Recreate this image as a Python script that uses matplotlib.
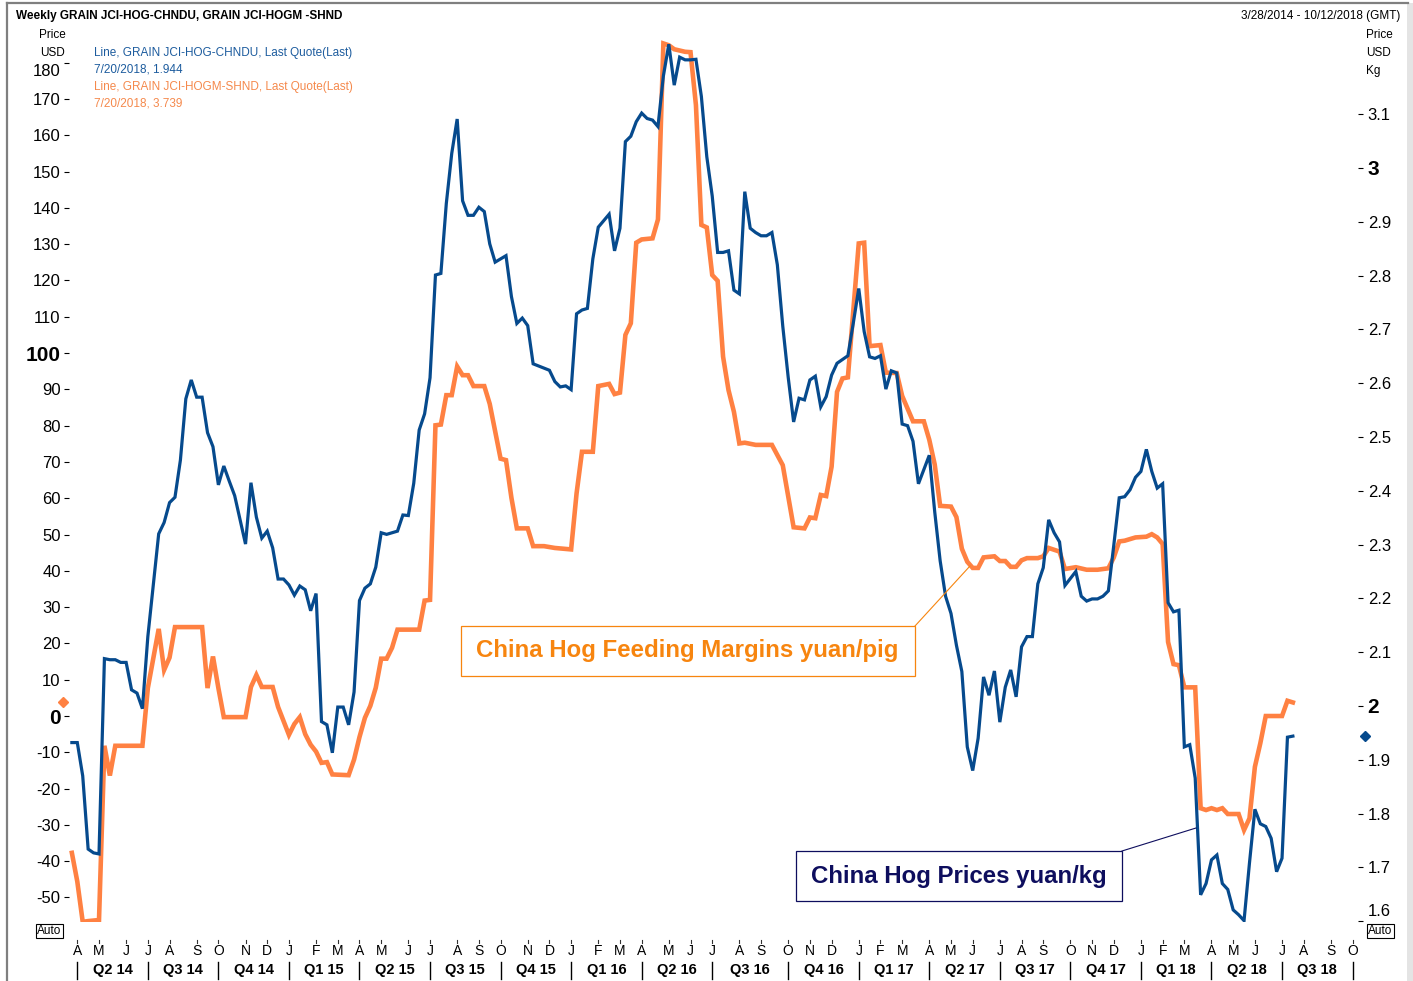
import matplotlib
matplotlib.use('Agg')
import matplotlib.pyplot as plt
import matplotlib.transforms as mtransforms
import matplotlib.dates as mdates
from matplotlib.patches import Rectangle
from matplotlib.lines import Line2D
import pandas as pd

plt.rcParams['font.family'] = ['Liberation Sans', 'DejaVu Sans']

# ---------------- data ----------------
START = pd.Timestamp('2014-03-28')   # first weekly observation (Friday)
END = pd.Timestamp('2018-10-12')

# China hog prices (right axis): week number since START, value
price_weeks = [0, 1, 2, 3, 4, 5, 6, 7, 8, 9, 10, 11, 12, 13, 14, 15, 16, 17, 18, 19,
               20, 21, 22, 23, 24, 25, 26, 27, 28, 29, 30, 32, 33, 34, 35, 36, 37, 38, 39, 40,
               41, 42, 43, 44, 45, 46, 47, 48, 49, 50, 51, 52, 53, 54, 55, 56, 57, 58, 60, 61,
               62, 63, 64, 65, 66, 67, 68, 69, 70, 71, 72, 73, 74, 75, 76, 77, 78, 80, 81, 82,
               83, 84, 85, 88, 89, 90, 91, 92, 93, 94, 95, 96, 97, 99, 100, 101, 102, 103, 104, 105,
               106, 107, 108, 109, 110, 111, 112, 113, 114, 115, 116, 117, 118, 119, 120, 121, 122, 123, 124, 125,
               126, 127, 128, 129, 130, 131, 132, 133, 134, 135, 136, 137, 138, 139, 140, 141, 143, 144, 145, 146,
               147, 148, 149, 150, 151, 152, 153, 154, 155, 156, 158, 159, 160, 161, 162, 163, 164, 165, 166, 167,
               168, 169, 170, 171, 172, 173, 174, 175, 176, 177, 178, 179, 180, 181, 182, 183, 185, 186, 187, 188,
               189, 190, 191, 192, 193, 194, 195, 196, 197, 198, 199, 200, 201, 202, 203, 204, 205, 206, 207, 208,
               209, 210, 211, 212, 213, 214, 215, 216, 217, 218, 219, 220, 221, 222, 223, 224, 225]
price_values = [1.932, 1.932, 1.870, 1.734, 1.727, 1.725, 2.088, 2.086, 2.086, 2.081, 2.081, 2.030, 2.024, 1.995, 2.129, 2.225, 2.320, 2.341, 2.378, 2.388,
                2.457, 2.571, 2.606, 2.574, 2.574, 2.508, 2.482, 2.411, 2.446, 2.418, 2.391, 2.301, 2.415, 2.351, 2.312, 2.325, 2.294, 2.236, 2.236, 2.225,
                2.206, 2.223, 2.216, 2.177, 2.209, 1.971, 1.965, 1.913, 1.998, 1.998, 1.965, 2.026, 2.196, 2.219, 2.227, 2.258, 2.322, 2.319, 2.325, 2.355,
                2.354, 2.414, 2.513, 2.543, 2.610, 2.801, 2.804, 2.934, 3.027, 3.091, 2.939, 2.912, 2.912, 2.927, 2.919, 2.859, 2.825, 2.837, 2.761, 2.711,
                2.721, 2.707, 2.636, 2.624, 2.603, 2.593, 2.595, 2.588, 2.729, 2.736, 2.739, 2.831, 2.890, 2.914, 2.846, 2.888, 3.049, 3.059, 3.086, 3.102,
                3.092, 3.089, 3.077, 3.171, 3.230, 3.154, 3.206, 3.201, 3.201, 3.202, 3.133, 3.021, 2.948, 2.843, 2.843, 2.846, 2.773, 2.766, 2.956, 2.888,
                2.880, 2.874, 2.874, 2.880, 2.820, 2.706, 2.611, 2.528, 2.572, 2.569, 2.606, 2.613, 2.556, 2.575, 2.615, 2.637, 2.651, 2.712, 2.776, 2.696,
                2.649, 2.646, 2.651, 2.589, 2.623, 2.619, 2.524, 2.521, 2.492, 2.413, 2.466, 2.361, 2.270, 2.204, 2.172, 2.113, 2.064, 1.924, 1.880, 1.940,
                2.054, 2.020, 2.065, 1.970, 2.035, 2.067, 2.017, 2.110, 2.129, 2.129, 2.227, 2.257, 2.346, 2.322, 2.305, 2.224, 2.250, 2.204, 2.195, 2.199,
                2.199, 2.204, 2.214, 2.299, 2.387, 2.389, 2.402, 2.425, 2.436, 2.477, 2.436, 2.405, 2.413, 2.192, 2.175, 2.178, 1.924, 1.928, 1.866, 1.649,
                1.670, 1.714, 1.723, 1.670, 1.659, 1.621, 1.612, 1.601, 1.708, 1.808, 1.781, 1.776, 1.754, 1.692, 1.717, 1.942, 1.944]

# China hog feeding margins (left axis): week number since START, value
margin_weeks = [0, 1, 2, 3, 5, 6, 7, 8, 13, 14, 15, 16, 17, 18, 19, 24, 25, 26, 27, 28,
                32, 33, 34, 35, 37, 38, 40, 41, 42, 43, 44, 45, 46, 47, 48, 51, 52, 53, 54, 55,
                56, 57, 58, 59, 60, 64, 65, 66, 67, 68, 69, 70, 71, 72, 73, 74, 76, 77, 79, 80,
                81, 82, 84, 85, 87, 89, 92, 93, 94, 96, 97, 99, 100, 101, 102, 103, 104, 105, 107, 108,
                109, 110, 111, 113, 114, 115, 116, 117, 118, 119, 120, 121, 122, 123, 124, 126, 129, 131, 133, 135,
                136, 137, 138, 139, 140, 141, 142, 143, 145, 146, 147, 149, 150, 152, 153, 155, 157, 158, 159, 160,
                162, 163, 164, 165, 166, 167, 168, 170, 171, 172, 173, 174, 175, 176, 178, 179, 180, 182, 183, 185,
                187, 189, 191, 192, 193, 194, 196, 198, 199, 200, 201, 202, 203, 204, 205, 207, 208, 209, 210, 211,
                212, 213, 215, 216, 217, 218, 219, 220, 223, 224, 225]
margin_values = [-37.7, -45.6, -56.7, -56.5, -56.2, -8.2, -16.4, -8.2, -8.2, 7.7, 15.8, 24.0, 12.7, 16.1, 24.5, 24.5, 7.7, 16.4, 7.7, -0.3,
                 -0.3, 8.0, 11.3, 8.0, 8.0, 2.5, -5.2, -2.2, -0.3, -5.0, -7.9, -9.8, -12.9, -12.7, -16.1, -16.3, -12.0, -5.8, -0.5, 2.8,
                 7.8, 15.8, 15.8, 18.8, 23.8, 23.8, 31.8, 32.0, 80.1, 80.3, 88.4, 88.4, 96.3, 93.9, 93.9, 90.9, 90.9, 86.0, 70.9, 70.5,
                 60.1, 51.7, 51.7, 46.8, 46.8, 46.3, 45.9, 61.3, 72.8, 72.8, 90.9, 91.5, 88.7, 89.1, 105.0, 108.2, 130.4, 131.3, 131.6, 136.8,
                 185.3, 184.8, 183.7, 183.0, 182.9, 168.3, 135.3, 134.6, 121.5, 119.9, 99.0, 89.8, 83.8, 75.1, 75.3, 74.7, 74.7, 69.1, 52.0, 51.7,
                 54.7, 54.5, 60.9, 60.6, 68.7, 89.3, 93.0, 93.3, 130.2, 130.4, 101.9, 102.2, 94.6, 94.5, 88.2, 81.2, 81.2, 76.1, 69.3, 57.9,
                 57.7, 54.8, 46.1, 42.5, 40.8, 40.8, 43.7, 44.0, 42.7, 42.7, 41.1, 41.1, 42.9, 43.5, 43.5, 44.0, 46.3, 45.3, 40.5, 41.0,
                 40.3, 40.3, 40.7, 43.7, 48.1, 48.3, 49.2, 49.4, 50.1, 49.2, 47.4, 20.4, 14.3, 14.0, 7.9, 7.9, -25.4, -25.9, -25.4, -25.9,
                 -25.4, -27.0, -27.0, -31.4, -28.2, -14.0, -7.5, 0.0, 0.0, 4.2, 3.739]

left_ticks = [-50, -40, -30, -20, -10, 0, 10, 20, 30, 40, 50, 60, 70, 80, 90, 100,
              110, 120, 130, 140, 150, 160, 170, 180]
right_ticks = [1.6, 1.7, 1.8, 1.9, 2.0, 2.1, 2.2, 2.3, 2.4, 2.5, 2.6, 2.7, 2.8, 2.9, 3.0, 3.1]

month_labels = ['A', 'M', 'J', 'J', 'A', 'S', 'O', 'N', 'D',
                'J', 'F', 'M', 'A', 'M', 'J', 'J', 'A', 'S', 'O', 'N', 'D',
                'J', 'F', 'M', 'A', 'M', 'J', 'J', 'A', 'S', 'O', 'N', 'D',
                'J', 'F', 'M', 'A', 'M', 'J', 'J', 'A', 'S', 'O', 'N', 'D',
                'J', 'F', 'M', 'A', 'M', 'J', 'J', 'A', 'S', 'O']
quarter_labels = ['Q2 14', 'Q3 14', 'Q4 14', 'Q1 15', 'Q2 15', 'Q3 15', 'Q4 15', 'Q1 16',
                  'Q2 16', 'Q3 16', 'Q4 16', 'Q1 17', 'Q2 17', 'Q3 17', 'Q4 17', 'Q1 18',
                  'Q2 18', 'Q3 18']

BLUE = '#064A8D'
ORANGE = '#FF8142'

# ---------------- figure ----------------
W, H = 1413, 981
fig = plt.figure(figsize=(W / 100, H / 100), dpi=100)


def fx(x):
    return x / W


def fy(y):
    return 1 - y / H


AX_L, AX_R, AX_T, AX_B = 69, 1358, 38, 922
ax = fig.add_axes([fx(AX_L), fy(AX_B), fx(AX_R - AX_L), (AX_B - AX_T) / H])
ax2 = ax.twinx()

margin_dates = START + pd.to_timedelta([w * 7 for w in margin_weeks], unit='D')
price_dates = START + pd.to_timedelta([w * 7 for w in price_weeks], unit='D')

ax.plot(mdates.date2num(margin_dates), margin_values, color=ORANGE, lw=3.3,
        solid_joinstyle='miter', zorder=2)
ax2.plot(mdates.date2num(price_dates), price_values, color=BLUE, lw=2.3,
         solid_joinstyle='miter', zorder=3)

ax.set_xlim(mdates.date2num(START - pd.Timedelta(days=3.7)), mdates.date2num(END))
ax.set_ylim(-56.75, 186.8)
ax2.set_ylim(1.5985, 3.2416)

for a in (ax, ax2):
    for s in a.spines.values():
        s.set_visible(False)
    a.set_xticks([])
ax.patch.set_alpha(0)

# left ticks
ax.set_yticks(left_ticks)
ax.set_yticklabels(['' if t == 180 else f'{t}' for t in left_ticks])
ax.tick_params(axis='y', direction='out', length=3.5, width=0.8, pad=2.5,
               labelsize=12, colors='black')
for lab in ax.get_yticklabels():
    if lab.get_text() in ('100', '0'):
        lab.set_fontweight('bold')
        lab.set_fontsize(15)
fig.text(fx(61), fy(72), '180', ha='right', va='center', fontsize=12)

# right ticks
ax2.set_yticks(right_ticks)
ax2.set_yticklabels(['' if t == 1.6 else f'{t:g}' for t in right_ticks])
ax2.tick_params(axis='y', direction='out', length=3.5, width=0.8, pad=3.5,
                labelsize=12, colors='black')
for lab in ax2.get_yticklabels():
    if lab.get_text() in ('3', '2'):
        lab.set_fontweight('bold')
        lab.set_fontsize(15)
fig.text(fx(1368), fy(911), '1.6', ha='left', va='center', fontsize=12)

# last-value diamonds
bt = mtransforms.blended_transform_factory(ax.transAxes, ax.transData)
ax.plot([-0.0045], [margin_values[-1]], marker='D', ms=5, color=ORANGE,
        transform=bt, clip_on=False, lw=0)
bt2 = mtransforms.blended_transform_factory(ax2.transAxes, ax2.transData)
ax2.plot([1.0055], [price_values[-1]], marker='D', ms=5, color=BLUE,
         transform=bt2, clip_on=False, lw=0)

# ---------------- x axis: months & quarters ----------------
xt = mtransforms.blended_transform_factory(ax.transData, fig.transFigure)


def first_friday(year, month):
    d = pd.Timestamp(year=year, month=month, day=1)
    return d + pd.Timedelta(days=(4 - d.weekday()) % 7)


month_periods = pd.period_range('2014-04', '2018-10', freq='M')
month_pos = [mdates.date2num(first_friday(p.year, p.month)) for p in month_periods]
for d, lab in zip(month_pos, month_labels):
    fig.add_artist(Line2D([d, d], [fy(939.5), fy(943)], transform=xt,
                          color='#333333', lw=0.8))
    fig.text(d, fy(951), lab, transform=xt, fontsize=10, ha='center', va='center')

q_pos = [month_pos[i] for i in range(0, len(month_pos), 3)]
for d in q_pos:
    fig.add_artist(Line2D([d, d], [fy(962), fy(979)], transform=xt,
                          color='black', lw=1.0))
for i, lab in enumerate(quarter_labels):
    mid = (q_pos[i] + q_pos[i + 1]) / 2
    fig.text(mid, fy(970), lab, transform=xt, fontsize=10.5, fontweight='bold',
             ha='center', va='center')

# ---------------- header texts ----------------
fig.text(fx(16), fy(16), 'Weekly GRAIN JCI-HOG-CHNDU, GRAIN JCI-HOGM -SHND',
         fontsize=8.5, fontweight='bold', ha='left', va='center')
fig.text(fx(1400), fy(16), '3/28/2014 - 10/12/2018 (GMT)', fontsize=8.5,
         ha='right', va='center')
fig.text(fx(52), fy(35), 'Price', fontsize=8.5, ha='center', va='center')
fig.text(fx(52), fy(53), 'USD', fontsize=8.5, ha='center', va='center')
fig.text(fx(1366), fy(35), 'Price', fontsize=8.5, ha='left', va='center')
fig.text(fx(1366), fy(53), 'USD', fontsize=8.5, ha='left', va='center')
fig.text(fx(1366), fy(71), 'Kg', fontsize=8.5, ha='left', va='center')

LEG_BLUE = '#1D5C9E'
LEG_ORANGE = '#F5894C'
fig.text(fx(94), fy(53), 'Line, GRAIN JCI-HOG-CHNDU, Last Quote(Last)', fontsize=8.5,
         color=LEG_BLUE, ha='left', va='center')
fig.text(fx(94), fy(70), f'7/20/2018, {price_values[-1]:.3f}', fontsize=8.5,
         color=LEG_BLUE, ha='left', va='center')
fig.text(fx(94), fy(87), 'Line, GRAIN JCI-HOGM-SHND, Last Quote(Last)', fontsize=8.5,
         color=LEG_ORANGE, ha='left', va='center')
fig.text(fx(94), fy(104), f'7/20/2018, {margin_values[-1]:.3f}', fontsize=8.5,
         color=LEG_ORANGE, ha='left', va='center')

# "Auto" boxes
for x0 in (36, 1367):
    fig.text(fx(x0 + 1), fy(931), 'Auto', fontsize=8.5, ha='left', va='center',
             bbox=dict(boxstyle='square,pad=0.1', fc='white', ec='black', lw=0.8))

# ---------------- annotation boxes ----------------
ANN_ORANGE = '#F7850F'
fig.add_artist(Rectangle((fx(461), fy(676)), fx(915 - 461), (676 - 626) / H,
                         transform=fig.transFigure, fill=False, ec=ANN_ORANGE, lw=0.9))
fig.text(fx(687), fy(651), 'China Hog Feeding Margins yuan/pig', fontsize=17.3,
         fontweight='bold', color=ANN_ORANGE, ha='center', va='center')
fig.add_artist(Line2D([fx(915), fx(970)], [fy(626), fy(566)], transform=fig.transFigure,
                      color=ANN_ORANGE, lw=0.8))

NAVY = '#0E0E5E'
fig.add_artist(Rectangle((fx(796), fy(901)), fx(1122 - 796), (901 - 851) / H,
                         transform=fig.transFigure, fill=False, ec=NAVY, lw=0.9))
fig.text(fx(959), fy(877), 'China Hog Prices yuan/kg', fontsize=17.3,
         fontweight='bold', color=NAVY, ha='center', va='center')
fig.add_artist(Line2D([fx(1122), fx(1196)], [fy(851), fy(828)], transform=fig.transFigure,
                      color=NAVY, lw=0.8))

# outer frame
fig.add_artist(Line2D([fx(7), fx(7)], [0, fy(3)], transform=fig.transFigure,
                      color='#7F7F7F', lw=1.6))
fig.add_artist(Line2D([fx(7), fx(1408)], [fy(3), fy(3)], transform=fig.transFigure,
                      color='#7F7F7F', lw=1.6))
fig.add_artist(Rectangle((fx(1407), 0), fx(6), fy(3), transform=fig.transFigure,
                         fc='#E4E4E4', ec='none'))

fig.savefig('out.png', dpi=100)
